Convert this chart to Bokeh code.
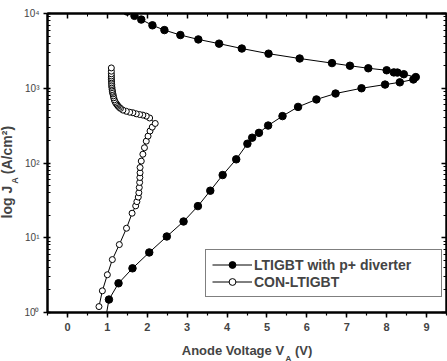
from bokeh.plotting import figure
from bokeh.models import (Range1d, LinearAxis, LogAxis, FixedTicker, Title,
                          Legend, LegendItem, ColumnDataSource)
from bokeh.embed import file_html
from bokeh.resources import INLINE

# ---- data ----
# LTIGBT with p+ diverter: forward branch up to the snap-back tip, then back
div_v = [0.96, 1.04, 1.28, 1.63, 2.05, 2.49, 2.91, 3.27, 3.58, 3.89, 4.23, 4.51,
         4.63, 4.80, 5.03, 5.39, 5.78, 6.24, 6.72, 7.37, 7.96, 8.33, 8.67, 8.73,
         8.43, 8.27, 8.18, 8.00, 7.54, 7.08, 6.63, 5.82, 5.04, 4.37, 3.80, 3.28,
         2.83, 2.43, 2.13, 1.85, 1.68, 1.50]
div_j = [0.85, 1.49, 2.46, 3.9, 6.36, 10.4, 16.5, 26.5, 42.6, 69, 112, 181,
         218, 253, 317, 424, 563, 708, 850, 1000, 1120, 1200, 1310, 1410,
         1540, 1620, 1630, 1740, 1850, 2000, 2170, 2500, 2900, 3400, 3950, 4500,
         5150, 6000, 6950, 8300, 9300, 10600]

# CON-LTIGBT
con_v = [0.79, 0.875, 1.0, 1.125, 1.3, 1.48, 1.62, 1.71, 1.74, 1.775, 1.79, 1.80,
         1.81, 1.815, 1.82, 1.82,
         1.85, 1.89, 1.93, 1.975, 2.02, 2.07, 2.125, 2.2,
         2.06, 1.975, 1.89, 1.81, 1.725, 1.64, 1.56, 1.475, 1.39,
         1.33, 1.30, 1.27, 1.25, 1.23, 1.21, 1.19, 1.175, 1.16, 1.15, 1.14, 1.13,
         1.125, 1.12, 1.115, 1.11, 1.11, 1.105, 1.105, 1.10, 1.10, 1.10, 1.10,
         1.10, 1.10]
con_j = [1.2, 1.95, 3.2, 5.1, 8.1, 13.4, 21.3, 26.7, 30.4, 35, 40, 47,
         55, 64, 74, 87,
         106, 131, 160, 196, 229, 268, 302, 338,
         400, 424, 437, 445, 455, 470, 478, 492, 510,
         537, 555, 575, 595, 615, 636, 665, 700, 745, 790, 840, 880,
         912, 960, 1020, 1070, 1120, 1180, 1250, 1320, 1380, 1460,
         1560, 1690, 1870]

x_ticks = [0, 1, 2, 3, 4, 5, 6, 7, 8, 9]
x_tick_labels = ["0", "1", "2", "3", "4", "5", "6", "7", "8", "9"]
y_ticks = [1, 10, 100, 1000, 10000]
y_tick_labels = ["10⁰", "10¹", "10²", "10³", "10⁴"]
series_names = ["LTIGBT with p+ diverter", "CON-LTIGBT"]

FONT = "Liberation Sans"
NB = "\u00a0"

p = figure(width=447, height=361, x_range=Range1d(-0.5, 9.5),
           y_range=Range1d(1, 10000), y_axis_type="log",
           output_backend="svg", toolbar_location=None,
           min_border_left=47, min_border_right=1, min_border_top=13,
           min_border_bottom=49, background_fill_color="white",
           border_fill_color="white")
p.xgrid.visible = False
p.ygrid.visible = False
p.outline_line_color = "black"
p.outline_line_width = 2

x_minor = [i * 0.5 - 0.5 for i in range(21)]
y_minor = [m * 10 ** k for k in range(4) for m in range(2, 10)]
xt = FixedTicker(ticks=x_ticks, minor_ticks=x_minor)
yt = FixedTicker(ticks=y_ticks, minor_ticks=y_minor)

# bottom axis (its label carries the main x title)
xa = p.xaxis[0]
xa.ticker = xt
xa.major_label_overrides = {t: l for t, l in zip(x_ticks, x_tick_labels)}
xa.major_label_text_font = FONT
xa.major_label_text_font_style = "bold"
xa.major_label_text_font_size = "11px"
xa.major_label_standoff = 5
xa.axis_line_width = 2
xa.major_tick_out = 5
xa.major_tick_in = 0
xa.minor_tick_out = 3
xa.minor_tick_in = 0
xa.major_tick_line_width = 1.5
xa.minor_tick_line_width = 1.2
xa.axis_label = "Anode Voltage V" + NB + NB + " (V)"
xa.axis_label_text_font = FONT
xa.axis_label_text_font_style = "bold"
xa.axis_label_text_font_size = "13px"
xa.axis_label_standoff = 9

# left axis (its label carries the subscript of J)
ya = p.yaxis[0]
ya.ticker = yt
ya.major_label_overrides = {t: l for t, l in zip(y_ticks, y_tick_labels)}
ya.major_label_text_font = FONT
ya.major_label_text_font_size = "10px"
ya.major_label_standoff = 4
ya.axis_line_width = 2
ya.major_tick_out = 4
ya.major_tick_in = 3
ya.minor_tick_out = 0
ya.minor_tick_in = 3
ya.major_tick_line_width = 1.5
ya.minor_tick_line_width = 1.2
ya.axis_label = "A" + NB * 14
ya.axis_label_text_font = FONT
ya.axis_label_text_font_style = "bold"
ya.axis_label_text_font_size = "9px"
ya.axis_label_standoff = 1

# subscript of V below the x title, main y title left of the axis
p.add_layout(Title(text="A", align="left", offset=238, vertical_align="top",
                   standoff=-14, text_font=FONT, text_font_style="bold",
                   text_font_size="8px"), "below")
p.add_layout(Title(text="log J" + NB + NB + " (A/cm²)", align="left", offset=94,
                   vertical_align="bottom", standoff=-15, text_font=FONT,
                   text_font_style="bold", text_font_size="14px"), "left")

# top and right mirror axes (ticks only)
top = LinearAxis(ticker=xt, major_label_overrides={t: "" for t in x_ticks},
                 major_label_text_font_size="0px",
                 axis_line_width=2, major_tick_in=5, major_tick_out=0,
                 minor_tick_in=3, minor_tick_out=0, major_tick_line_width=1.5,
                 major_label_standoff=0)
p.add_layout(top, "above")
right = LogAxis(ticker=yt, major_label_overrides={t: "" for t in y_ticks},
                major_label_text_font_size="0px",
                axis_line_width=2, major_tick_in=5, major_tick_out=0,
                minor_tick_in=3, minor_tick_out=0, major_tick_line_width=1.5,
                major_label_standoff=0)
p.add_layout(right, "right")

src_div = ColumnDataSource(dict(v=div_v, j=div_j))
src_con = ColumnDataSource(dict(v=con_v, j=con_j))

l1 = p.line("v", "j", source=src_div, line_color="black", line_width=1)
s1 = p.scatter("v", "j", source=src_div, size=7.5, marker="circle",
               fill_color="black", line_color="black")
l2 = p.line("v", "j", source=src_con, line_color="black", line_width=1)
s2 = p.scatter("v", "j", source=src_con, size=6, marker="circle",
               fill_color="white", line_color="black", line_width=1)

legend = Legend(items=[LegendItem(label=series_names[0], renderers=[l1, s1]),
                       LegendItem(label=series_names[1], renderers=[l2, s2])],
                location=(158, 15), margin=0, padding=6, spacing=0,
                glyph_width=40, glyph_height=17, label_height=17,
                label_width=181, label_standoff=2, label_text_font=FONT,
                label_text_font_style="bold", label_text_font_size="14px",
                border_line_color="black", border_line_width=1,
                background_fill_alpha=1)
p.add_layout(legend, "center")

open("out.html", "w").write(file_html(p, INLINE))
